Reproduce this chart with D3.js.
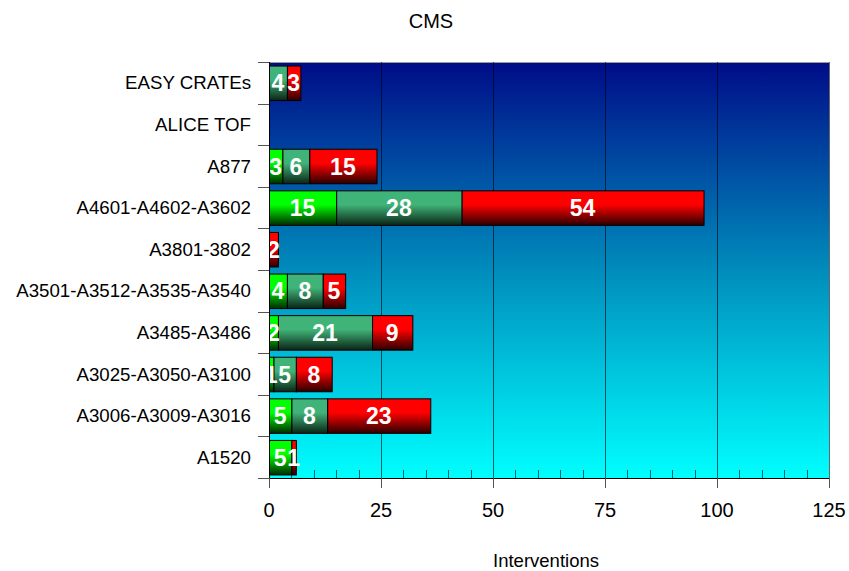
<!DOCTYPE html>
<html>
<head>
<meta charset="utf-8">
<script src="https://cdn.jsdelivr.net/npm/d3@7/dist/d3.min.js"></script>
<style>
  html, body { margin: 0; padding: 0; background: #fff; }
  svg { display: block; }
  text { font-family: "Liberation Sans", Arial, sans-serif; }
</style>
</head>
<body>
<svg id="chart" width="849" height="571"></svg>
<script>
// Interventions per crate type, stacked in three groups (bottom-to-top order)
const categories = ["A1520", "A3006-A3009-A3016", "A3025-A3050-A3100", "A3485-A3486",
  "A3501-A3512-A3535-A3540", "A3801-3802", "A4601-A4602-A3602", "A877", "ALICE TOF", "EASY CRATEs"];
const seriesGreen = [5, 5, 1, 2, 4, 0, 15, 3, 0, 0];
const seriesTeal  = [0, 8, 5, 21, 8, 0, 28, 6, 0, 4];
const seriesRed   = [1, 23, 8, 9, 5, 2, 54, 15, 0, 3];
const xTicks = [0, 25, 50, 75, 100, 125];
const minorStep = 5;

(function draw() {
const svg = d3.select("#chart");
const pLeft = 269, pRight = 829, pTop = 62, pBottom = 478;

const x = d3.scaleLinear().domain([0, 125]).range([pLeft, pRight]);
const y = d3.scaleBand().domain(categories.slice().reverse()).range([pTop, pBottom])
  .paddingInner(0.17).paddingOuter(0.085);

const defs = svg.append("defs");
const bg = defs.append("linearGradient").attr("id", "bg").attr("x1", 0).attr("y1", 0).attr("x2", 0).attr("y2", 1);
bg.append("stop").attr("offset", 0).attr("stop-color", "#000c88");
bg.append("stop").attr("offset", 0.5).attr("stop-color", "#008cbc");
bg.append("stop").attr("offset", 1).attr("stop-color", "#00ffff");

const seriesDefs = [
  { key: "g", values: seriesGreen, top: "#00ff00", bottom: "#002a00" },
  { key: "t", values: seriesTeal,  top: "#40b478", bottom: "#0a2416" },
  { key: "r", values: seriesRed,   top: "#ff0000", bottom: "#2a0000" }
];
seriesDefs.forEach(s => {
  const g = defs.append("linearGradient").attr("id", "grad-" + s.key)
    .attr("x1", 0).attr("y1", 0).attr("x2", 0).attr("y2", 1);
  g.append("stop").attr("offset", 0).attr("stop-color", s.top);
  g.append("stop").attr("offset", 0.4).attr("stop-color", s.top);
  g.append("stop").attr("offset", 1).attr("stop-color", s.bottom);
});

// plot background
svg.append("rect").attr("x", pLeft).attr("y", pTop).attr("width", pRight - pLeft).attr("height", pBottom - pTop)
  .attr("fill", "url(#bg)");
svg.append("line").attr("x1", pLeft).attr("x2", pRight).attr("y1", pTop + 0.5).attr("y2", pTop + 0.5)
  .attr("stroke", "#9a9a9a").attr("stroke-width", 1);

// vertical gridlines
svg.append("g").selectAll("line").data(xTicks.slice(1)).join("line")
  .attr("x1", d => Math.round(x(d)) + 0.5).attr("x2", d => Math.round(x(d)) + 0.5)
  .attr("y1", pTop).attr("y2", pBottom)
  .attr("stroke", "#000").attr("stroke-opacity", 0.6).attr("stroke-width", 1);

// minor ticks along the bottom, inside the plot
const minorVals = d3.range(minorStep, 125, minorStep).filter(v => v % 25 !== 0);
svg.append("g").selectAll("line").data(minorVals).join("line")
  .attr("x1", d => Math.round(x(d)) + 0.5).attr("x2", d => Math.round(x(d)) + 0.5)
  .attr("y1", pBottom - 8).attr("y2", pBottom)
  .attr("stroke", "#000").attr("stroke-opacity", 0.6);

// stacked bars
const stack = categories.map((c, i) => {
  let acc = 0;
  return seriesDefs.map(s => {
    const v = s.values[i];
    const seg = { cat: c, key: s.key, x0: acc, x1: acc + v, v };
    acc += v;
    return seg;
  }).filter(d => d.v > 0);
}).flat();

const bars = svg.append("g");
bars.selectAll("rect").data(stack).join("rect")
  .attr("x", d => x(d.x0) + 0.5)
  .attr("y", d => y(d.cat) + 0.5)
  .attr("width", d => x(d.x1) - x(d.x0))
  .attr("height", y.bandwidth())
  .attr("fill", d => "url(#grad-" + d.key + ")")
  .attr("stroke", "#000").attr("stroke-width", 1);

bars.selectAll("text").data(stack).join("text")
  .attr("x", d => (x(d.x0) + x(d.x1)) / 2)
  .attr("y", d => y(d.cat) + y.bandwidth() / 2 + 8.5)
  .attr("text-anchor", "middle")
  .attr("font-size", 23).attr("font-weight", "bold").attr("fill", "#fff")
  .text(d => d.v);

// axes lines
svg.append("line").attr("x1", pLeft - 11).attr("x2", pRight).attr("y1", pBottom + 0.5).attr("y2", pBottom + 0.5)
  .attr("stroke", "#000");
svg.append("line").attr("x1", pLeft + 0.5).attr("x2", pLeft + 0.5).attr("y1", pTop).attr("y2", pBottom)
  .attr("stroke", "#000");

// category boundary ticks on the left
const bounds = categories.map((c, i) => pTop + i * (pBottom - pTop) / categories.length).concat([pBottom]);
svg.append("g").selectAll("line").data(bounds).join("line")
  .attr("x1", pLeft - 11).attr("x2", pLeft)
  .attr("y1", d => Math.round(d) + 0.5).attr("y2", d => Math.round(d) + 0.5)
  .attr("stroke", "#555");

// category labels
svg.append("g").selectAll("text").data(categories).join("text")
  .attr("x", 251)
  .attr("y", d => y(d) + y.bandwidth() / 2 + 6.5)
  .attr("text-anchor", "end").attr("font-size", 18.7).attr("fill", "#000")
  .text(d => d);

// bottom axis major ticks and labels
svg.append("g").selectAll("line").data(xTicks).join("line")
  .attr("x1", d => Math.round(x(d)) + 0.5).attr("x2", d => Math.round(x(d)) + 0.5)
  .attr("y1", pBottom).attr("y2", pBottom + 10)
  .attr("stroke", "#555");
svg.append("g").selectAll("text").data(xTicks).join("text")
  .attr("x", d => x(d)).attr("y", 517)
  .attr("text-anchor", "middle").attr("font-size", 20).attr("fill", "#000")
  .text(d => d);

// titles
svg.append("text").attr("x", 431).attr("y", 27.5).attr("text-anchor", "middle")
  .attr("font-size", 20).attr("fill", "#000").text("CMS");
svg.append("text").attr("x", 546).attr("y", 567).attr("text-anchor", "middle")
  .attr("font-size", 18.5).attr("fill", "#000").text("Interventions");
})();
</script>
</body>
</html>
